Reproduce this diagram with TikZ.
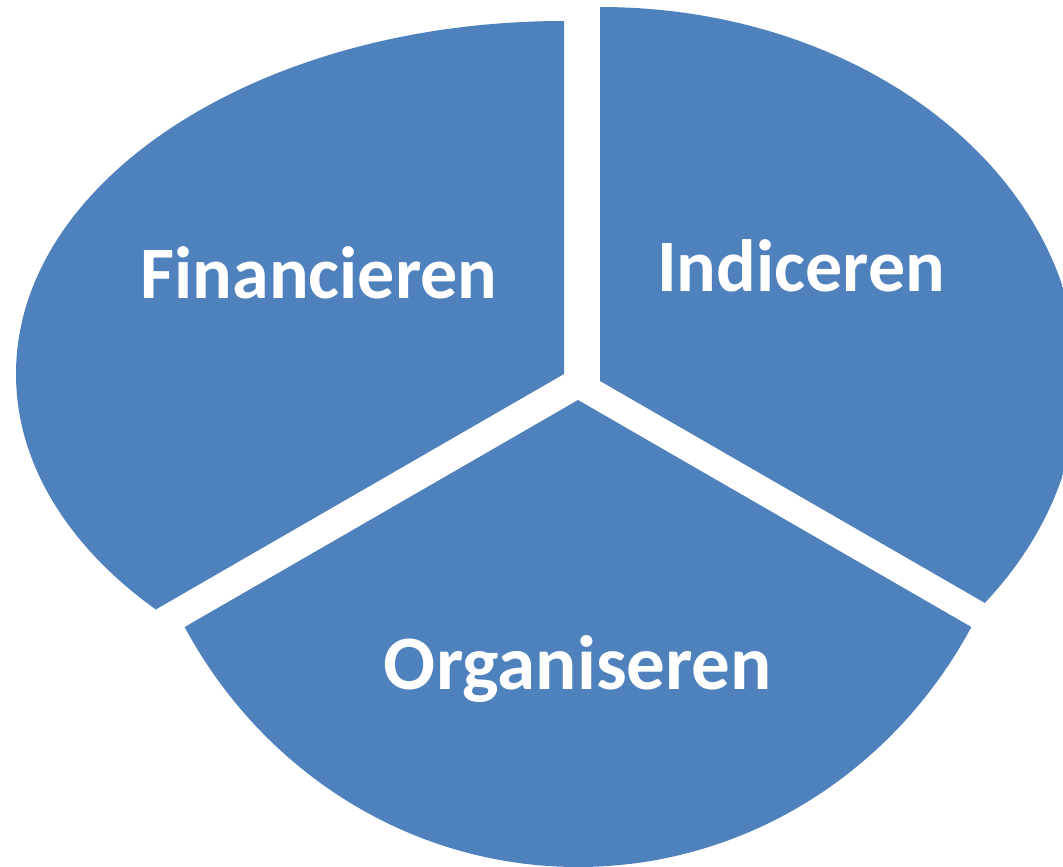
\documentclass[tikz,border=0pt]{standalone}
\usepackage{fontspec}
\setmainfont{Carlito}
\usepackage{tikz}

\definecolor{pieblue}{HTML}{4F81BD}

\begin{document}
\begin{tikzpicture}[x=1pt, y=-1pt,
  slice/.style={fill=pieblue, draw=none},
  slice text/.style={text=white, anchor=base, inner sep=0pt, font=\fontsize{74}{80}\selectfont\bfseries}]

  \useasboundingbox (0,0) rectangle (1063,867);

  % tips of the three slices
  \coordinate (fintip) at (564,374);
  \coordinate (indtip) at (600,381);
  \coordinate (orgtip) at (578,400);

  % Financieren slice
  \begin{scope}
    \clip (fintip) ellipse [x radius=548pt, y radius=353pt];
    \fill[slice] (fintip) -- (564,-100) -- (-100,-100) -- (-100,757) -- cycle;
  \end{scope}

  % Indiceren slice
  \begin{scope}
    \clip (indtip) ellipse [x radius=478pt, y radius=374pt];
    \fill[slice] (indtip) -- (600,-100) -- (1200,-100) -- (1200,727) -- cycle;
  \end{scope}

  % Organiseren slice
  \begin{scope}
    \clip (orgtip) ellipse [x radius=450pt, y radius=467pt];
    \fill[slice] (orgtip) -- (-122,804) -- (-122,1000) -- (1278,1000) -- (1278,804) -- cycle;
  \end{scope}

  \node[slice text] (fin) at (319,298) {Financieren};
  \node[slice text] (ind) at (801,291) {Indiceren};
  \node[slice text, font=\fontsize{77}{84}\selectfont\bfseries] (org) at (578,689) {Organiseren};

\end{tikzpicture}
\end{document}
